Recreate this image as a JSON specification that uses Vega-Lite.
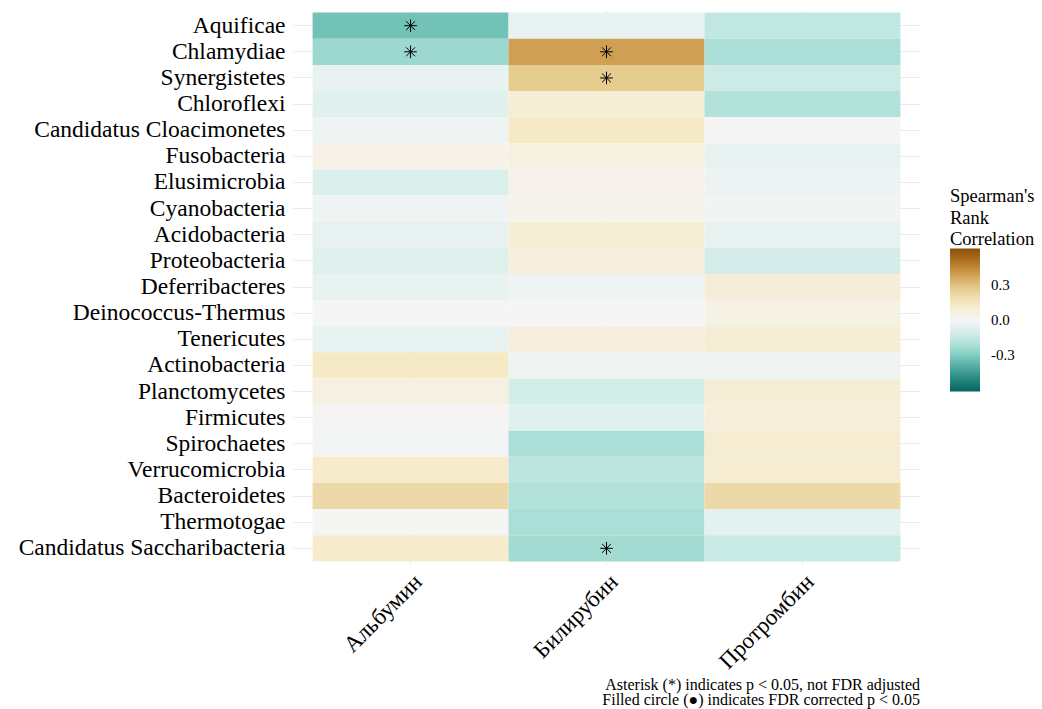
{
  "$schema": "https://vega.github.io/schema/vega-lite/v6.json",
  "autosize": {"type": "none"},
  "padding": {"left": 293, "top": 10, "right": 122, "bottom": 145},
  "width": 627,
  "height": 554,
  "background": "white",
  "config": {
    "view": {"stroke": null},
    "font": "Liberation Serif",
    "axis": {"domain": false, "ticks": false, "gridColor": "#ebebeb", "gridWidth": 1, "labelFont": "Liberation Serif", "labelColor": "#000000", "zindex": 0, "labelLimit": 400}
  },
  "title": {
    "text": ["Asterisk (*) indicates p < 0.05, not FDR adjusted", "Filled circle (●) indicates FDR corrected p < 0.05"],
    "orient": "bottom",
    "anchor": "end",
    "frame": "group",
    "font": "Liberation Serif",
    "fontSize": 16,
    "fontWeight": "normal",
    "color": "#000000",
    "lineHeight": 15,
    "offset": 4
  },
  "data": {
    "values": [
      {"phylum": "Aquificae", "param": "Альбумин", "r": -0.34, "sig": true},
      {"phylum": "Aquificae", "param": "Билирубин", "r": -0.043, "sig": false},
      {"phylum": "Aquificae", "param": "Протромбин", "r": -0.17, "sig": false},
      {"phylum": "Chlamydiae", "param": "Альбумин", "r": -0.25, "sig": true},
      {"phylum": "Chlamydiae", "param": "Билирубин", "r": 0.39, "sig": true},
      {"phylum": "Chlamydiae", "param": "Протромбин", "r": -0.22, "sig": false},
      {"phylum": "Synergistetes", "param": "Альбумин", "r": -0.043, "sig": false},
      {"phylum": "Synergistetes", "param": "Билирубин", "r": 0.27, "sig": true},
      {"phylum": "Synergistetes", "param": "Протромбин", "r": -0.14, "sig": false},
      {"phylum": "Chloroflexi", "param": "Альбумин", "r": -0.074, "sig": false},
      {"phylum": "Chloroflexi", "param": "Билирубин", "r": 0.093, "sig": false},
      {"phylum": "Chloroflexi", "param": "Протромбин", "r": -0.2, "sig": false},
      {"phylum": "Candidatus Cloacimonetes", "param": "Альбумин", "r": -0.023, "sig": false},
      {"phylum": "Candidatus Cloacimonetes", "param": "Билирубин", "r": 0.145, "sig": false},
      {"phylum": "Candidatus Cloacimonetes", "param": "Протромбин", "r": -0.005, "sig": false},
      {"phylum": "Fusobacteria", "param": "Альбумин", "r": 0.04, "sig": false},
      {"phylum": "Fusobacteria", "param": "Билирубин", "r": 0.065, "sig": false},
      {"phylum": "Fusobacteria", "param": "Протромбин", "r": -0.043, "sig": false},
      {"phylum": "Elusimicrobia", "param": "Альбумин", "r": -0.088, "sig": false},
      {"phylum": "Elusimicrobia", "param": "Билирубин", "r": 0.031, "sig": false},
      {"phylum": "Elusimicrobia", "param": "Протромбин", "r": -0.03, "sig": false},
      {"phylum": "Cyanobacteria", "param": "Альбумин", "r": -0.022, "sig": false},
      {"phylum": "Cyanobacteria", "param": "Билирубин", "r": 0.028, "sig": false},
      {"phylum": "Cyanobacteria", "param": "Протромбин", "r": -0.015, "sig": false},
      {"phylum": "Acidobacteria", "param": "Альбумин", "r": -0.047, "sig": false},
      {"phylum": "Acidobacteria", "param": "Билирубин", "r": 0.099, "sig": false},
      {"phylum": "Acidobacteria", "param": "Протромбин", "r": -0.047, "sig": false},
      {"phylum": "Proteobacteria", "param": "Альбумин", "r": -0.074, "sig": false},
      {"phylum": "Proteobacteria", "param": "Билирубин", "r": 0.068, "sig": false},
      {"phylum": "Proteobacteria", "param": "Протромбин", "r": -0.108, "sig": false},
      {"phylum": "Deferribacteres", "param": "Альбумин", "r": -0.043, "sig": false},
      {"phylum": "Deferribacteres", "param": "Билирубин", "r": -0.022, "sig": false},
      {"phylum": "Deferribacteres", "param": "Протромбин", "r": 0.09, "sig": false},
      {"phylum": "Deinococcus-Thermus", "param": "Альбумин", "r": -0.005, "sig": false},
      {"phylum": "Deinococcus-Thermus", "param": "Билирубин", "r": -0.005, "sig": false},
      {"phylum": "Deinococcus-Thermus", "param": "Протромбин", "r": 0.05, "sig": false},
      {"phylum": "Tenericutes", "param": "Альбумин", "r": -0.045, "sig": false},
      {"phylum": "Tenericutes", "param": "Билирубин", "r": 0.068, "sig": false},
      {"phylum": "Tenericutes", "param": "Протромбин", "r": 0.099, "sig": false},
      {"phylum": "Actinobacteria", "param": "Альбумин", "r": 0.146, "sig": false},
      {"phylum": "Actinobacteria", "param": "Билирубин", "r": -0.02, "sig": false},
      {"phylum": "Actinobacteria", "param": "Протромбин", "r": -0.02, "sig": false},
      {"phylum": "Planctomycetes", "param": "Альбумин", "r": 0.056, "sig": false},
      {"phylum": "Planctomycetes", "param": "Билирубин", "r": -0.114, "sig": false},
      {"phylum": "Planctomycetes", "param": "Протромбин", "r": 0.096, "sig": false},
      {"phylum": "Firmicutes", "param": "Альбумин", "r": 0.01, "sig": false},
      {"phylum": "Firmicutes", "param": "Билирубин", "r": -0.071, "sig": false},
      {"phylum": "Firmicutes", "param": "Протромбин", "r": 0.08, "sig": false},
      {"phylum": "Spirochaetes", "param": "Альбумин", "r": -0.008, "sig": false},
      {"phylum": "Spirochaetes", "param": "Билирубин", "r": -0.22, "sig": false},
      {"phylum": "Spirochaetes", "param": "Протромбин", "r": 0.11, "sig": false},
      {"phylum": "Verrucomicrobia", "param": "Альбумин", "r": 0.124, "sig": false},
      {"phylum": "Verrucomicrobia", "param": "Билирубин", "r": -0.18, "sig": false},
      {"phylum": "Verrucomicrobia", "param": "Протромбин", "r": 0.11, "sig": false},
      {"phylum": "Bacteroidetes", "param": "Альбумин", "r": 0.217, "sig": false},
      {"phylum": "Bacteroidetes", "param": "Билирубин", "r": -0.2, "sig": false},
      {"phylum": "Bacteroidetes", "param": "Протромбин", "r": 0.217, "sig": false},
      {"phylum": "Thermotogae", "param": "Альбумин", "r": 0.005, "sig": false},
      {"phylum": "Thermotogae", "param": "Билирубин", "r": -0.22, "sig": false},
      {"phylum": "Thermotogae", "param": "Протромбин", "r": -0.06, "sig": false},
      {"phylum": "Candidatus Saccharibacteria", "param": "Альбумин", "r": 0.124, "sig": false},
      {"phylum": "Candidatus Saccharibacteria", "param": "Билирубин", "r": -0.235, "sig": true},
      {"phylum": "Candidatus Saccharibacteria", "param": "Протромбин", "r": -0.155, "sig": false}
    ]
  },
  "encoding": {
    "x": {
      "field": "param", "type": "nominal", "sort": null,
      "scale": {"paddingInner": 0, "paddingOuter": 0.1},
      "axis": {"title": null, "grid": true, "bandPosition": 0.5, "labelAngle": -45, "labelAlign": "right", "labelBaseline": "top", "labelFontSize": 23, "labelPadding": 6}
    },
    "y": {
      "field": "phylum", "type": "nominal", "sort": null,
      "scale": {"paddingInner": 0, "paddingOuter": 0.1},
      "axis": {"title": null, "grid": true, "bandPosition": 0.5, "labelFontSize": 23.5, "labelPadding": 8}
    }
  },
  "layer": [
    {
      "mark": {"type": "rect"},
      "encoding": {
        "color": {
          "field": "r", "type": "quantitative",
          "title": ["Spearman's", "Rank", "Correlation"],
          "scale": {
            "domain": [-0.62, -0.465, -0.31, -0.155, 0, 0.155, 0.31, 0.465, 0.62],
            "range": ["#01665e", "#35978f", "#80cdc1", "#c7eae5", "#f5f5f5", "#f6e8c3", "#dfc27d", "#bf812d", "#8c510a"],
            "interpolate": "lab"
          },
          "legend": {
            "orient": "none", "legendX": 657, "legendY": 177,
            "values": [-0.3, 0, 0.3],
            "labelExpr": "replace(format(datum.value, '.1f'), '−', '-')",
            "gradientLength": 143, "gradientThickness": 30,
            "titleFont": "Liberation Serif", "titleFontSize": 18.5, "titleFontWeight": "normal", "titleLineHeight": 21.5, "titleColor": "#000000", "titlePadding": 0,
            "labelFont": "Liberation Serif", "labelFontSize": 15, "labelColor": "#000000", "labelOffset": 11
          }
        }
      }
    },
    {
      "transform": [{"filter": "datum.sig"}],
      "mark": {"type": "point", "shape": "M-1,0L1,0M0,-1L0,1M-0.7,-0.7L0.7,0.7M-0.7,0.7L0.7,-0.7", "filled": false, "stroke": "#000000", "strokeWidth": 1, "size": 160, "opacity": 1}
    }
  ]
}
